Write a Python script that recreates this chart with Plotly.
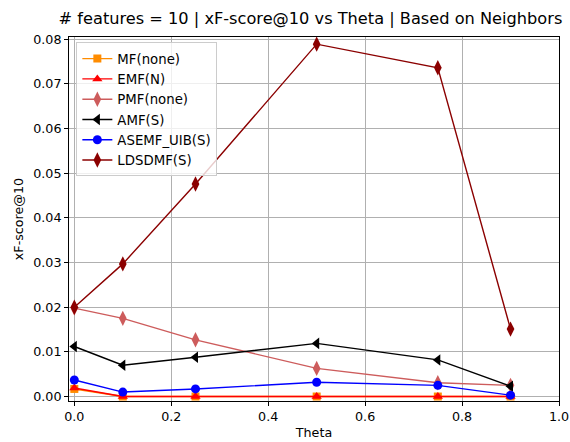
import plotly.graph_objects as go

theta = [0.0, 0.1, 0.25, 0.5, 0.75, 0.9]
mf = [0.0017, 0.0, 0.0, 0.0, 0.0, 0.0]
emf = [0.0019, 0.0, 0.0, 0.0, 0.0, 0.0]
pmf = [0.0198, 0.0175, 0.0127, 0.0063, 0.0031, 0.0025]
amf = [0.0112, 0.0070, 0.0088, 0.0119, 0.0082, 0.0023]
asemf = [0.0037, 0.0010, 0.0017, 0.0032, 0.0025, 0.0003]
ldsdmf = [0.0200, 0.0297, 0.0476, 0.0789, 0.0736, 0.0151]

series = [
    ("MF(none)", mf, "#ff8c00", "square", 8),
    ("EMF(N)", emf, "#ff0000", "triangle-up", 9),
    ("PMF(none)", pmf, "#cd5c5c", "diamond-tall", 11),
    ("AMF(S)", amf, "#000000", "triangle-left", 10),
    ("ASEMF_UIB(S)", asemf, "#0000ff", "circle", 9),
    ("LDSDMF(S)", ldsdmf, "#8b0000", "diamond-tall", 11),
]

fig = go.Figure()
for name, vals, color, sym, size in series:
    fig.add_trace(go.Scatter(
        x=theta, y=vals, name=name, mode="lines+markers",
        line=dict(color=color, width=1.4),
        marker=dict(symbol=sym, size=size, color=color, line=dict(width=0)),
    ))

font = "DejaVu Sans"
fig.update_layout(
    width=570, height=442, autosize=False,
    margin=dict(l=69, r=11, t=37, b=41, pad=0, autoexpand=False),
    paper_bgcolor="white", plot_bgcolor="white",
    font=dict(family=font, size=12.7, color="#000000"),
    title=dict(text="# features = 10 | xF-score@10 vs Theta | Based on Neighbors",
               x=0.5447, xanchor="center", y=0.958, yanchor="middle",
               font=dict(size=16.2, family=font)),
    showlegend=True,
    legend=dict(x=0.015, y=0.985, xanchor="left", yanchor="top",
                bgcolor="rgba(255,255,255,0.8)", bordercolor="#cccccc", borderwidth=1,
                font=dict(size=13.3, family=font), tracegroupgap=0,
                itemwidth=30),
)
fig.update_xaxes(
    range=[-0.011, 1.0], tickvals=[0, 0.2, 0.4, 0.6, 0.8, 1.0],
    ticktext=["0.0", "0.2", "0.4", "0.6", "0.8", "1.0"],
    showgrid=True, gridcolor="#b0b0b0", gridwidth=1, automargin=False,
    showline=True, linecolor="black", linewidth=1, mirror=True,
    ticks="outside", ticklen=4, tickcolor="black", zeroline=False,
    title=dict(text="Theta", standoff=4, font=dict(size=12.7)),
)
fig.update_yaxes(
    range=[-0.001, 0.0805], tickvals=[0, 0.01, 0.02, 0.03, 0.04, 0.05, 0.06, 0.07, 0.08],
    ticktext=["0.00", "0.01", "0.02", "0.03", "0.04", "0.05", "0.06", "0.07", "0.08"],
    showgrid=True, gridcolor="#b0b0b0", gridwidth=1, automargin=False,
    showline=True, linecolor="black", linewidth=1, mirror=True,
    ticks="outside", ticklen=4, tickcolor="black", zeroline=False,
    title=dict(text="xF-score@10", standoff=6, font=dict(size=12.7)),
)
fig.write_html("out.html")
